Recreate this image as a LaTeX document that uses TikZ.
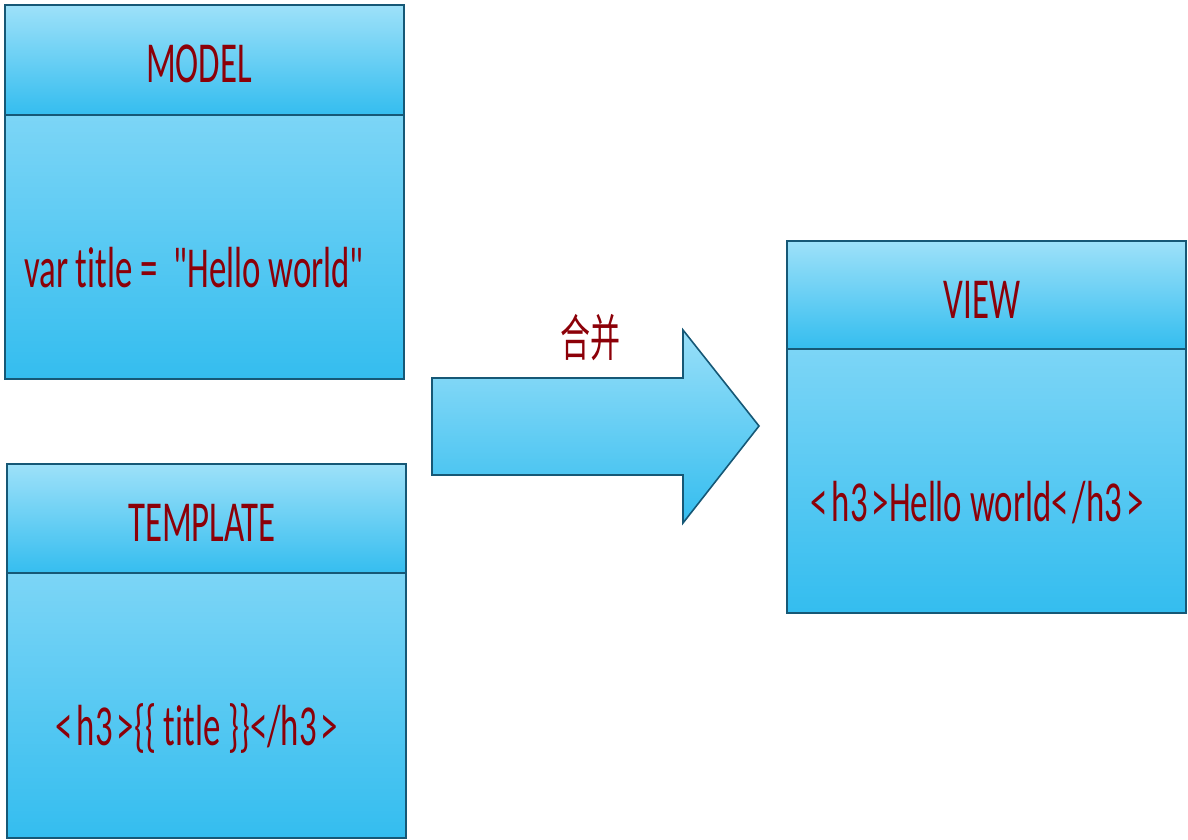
\documentclass[tikz,border=0pt]{standalone}
\usepackage{fontspec}
\usepackage{tikz}
\newfontfamily\boxfont[FakeStretch=0.6, Ligatures={NoCommon,NoContextual}]{Carlito}
\newfontfamily\cjkfont[FakeStretch=0.6]{Noto Sans CJK SC}
\newcommand\gap{\kern4pt}
\definecolor{edge}{RGB}{22,88,118}
\definecolor{ink}{RGB}{140,0,8}
\definecolor{skytop}{RGB}{158,225,249}
\definecolor{skymid}{RGB}{124,213,246}
\definecolor{skylow}{RGB}{52,189,239}

\begin{document}
\begin{tikzpicture}[x=1pt,y=-1pt,
		box/.style={draw=edge, line width=1.6pt, anchor=north west, minimum width=399, inner sep=0pt},
		headbox/.style={box, top color=skytop, bottom color=skylow, minimum height=110},
		bodybox/.style={box, top color=skymid, bottom color=skylow},
		words/.style={text=ink, font=\boxfont\fontsize{58}{60}\selectfont, inner sep=0pt}]
	\useasboundingbox (0,0) rectangle (1188,840);
	% model
	\node[headbox] (modelhead) at (4,4) {};
	\node[bodybox, minimum height=264] (modelbody) at (4,114) {};
	% template
	\node[headbox] (templatehead) at (6,463) {};
	\node[bodybox, minimum height=265] (templatebody) at (6,572) {};
	% view
	\node[headbox, minimum height=108] (viewhead) at (786,240) {};
	\node[bodybox, minimum height=264] (viewbody) at (786,348) {};
	% merge arrow
	\draw[edge, line width=1.6pt, top color=skytop!85!skymid, bottom color=skylow, line join=miter]
		(432,378) -- (683,378) -- (683,330) -- (759,426) -- (683,523) -- (683,475) -- (432,475) -- cycle;
	\node[text=ink, font=\cjkfont\fontsize{50}{52}\selectfont, inner sep=0pt] (mergelabel) at (590,338) {合并};
	% texts
	\node[words] (modeltitle) at (199,64) {MODEL};
	\node[words] (modeltext) at (194,268) {var t\kern0pt itle =\ \ "Hello world"};
	\node[words] (templatetitle) at (202,523) {TEMPLATE};
	\node[words] (templatetext) at (197,728) {<\gap h3\gap >\{\{ t\kern0pt itle \}\}</h3\gap >};
	\node[words] (viewtitle) at (982,300) {VIEW};
	\node[words] (viewtext) at (977,503) {<\gap h3\gap >Hello world<\gap /h3\gap >};
\end{tikzpicture}
\end{document}
